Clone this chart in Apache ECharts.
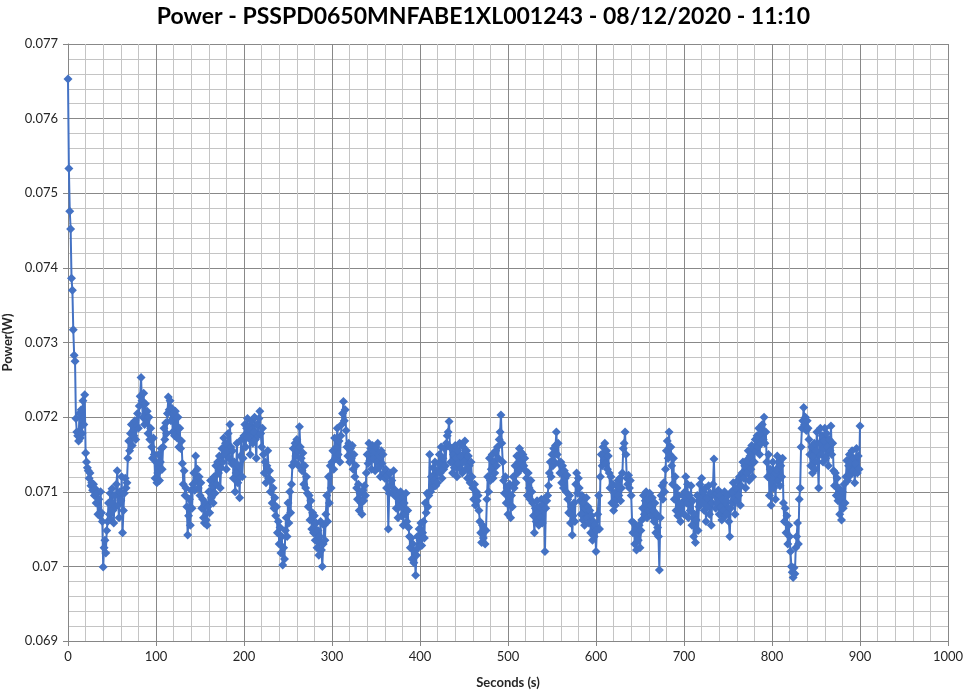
<!DOCTYPE html>
<html>
<head>
<meta charset="utf-8">
<script src="https://cdn.jsdelivr.net/npm/echarts@6/dist/echarts.min.js"></script>
<style>
html,body{margin:0;padding:0;background:#fff;}
#chart{width:967px;height:691px;}
</style>
</head>
<body>
<div id="chart"></div>
<script>
const chartTitle = "Power - PSSPD0650MNFABE1XL001243 - 08/12/2020 - 11:10";
const xAxisName = "Seconds (s)";
const yAxisName = "Power(W)";
const sampleStepSeconds = 1;
const xTicks = [0, 1000, 100];      // min, max, interval
const yTicks = [0.069, 0.077, 0.001];

// Power readings (W), one per second from t = 0 s
const power = [
0.07653,0.07533,0.07476,0.07452,0.07386,0.07370,0.07317,0.07283,0.07275,0.07198,
0.07180,0.07175,0.07168,0.07205,0.07172,0.07210,0.07178,0.07222,0.07190,0.07230,
0.07152,0.07140,0.07132,0.07128,0.07118,0.07125,0.07108,0.07112,0.07102,0.07110,
0.07095,0.07104,0.07085,0.07098,0.07070,0.07090,0.07068,0.07100,0.07072,0.07060,
0.06999,0.07025,0.07035,0.07018,0.07048,0.07060,0.07085,0.07070,0.07098,0.07062,
0.07104,0.07075,0.07058,0.07095,0.07080,0.07110,0.07128,0.07082,0.07065,0.07100,
0.07088,0.07120,0.07045,0.07075,0.07098,0.07118,0.07105,0.07112,0.07145,0.07168,
0.07155,0.07178,0.07190,0.07162,0.07182,0.07175,0.07195,0.07170,0.07188,0.07205,
0.07185,0.07215,0.07228,0.07253,0.07222,0.07200,0.07232,0.07190,0.07218,0.07195,
0.07208,0.07178,0.07200,0.07170,0.07185,0.07160,0.07145,0.07172,0.07150,0.07118,
0.07140,0.07112,0.07125,0.07150,0.07115,0.07140,0.07158,0.07130,0.07160,0.07185,
0.07170,0.07192,0.07178,0.07205,0.07227,0.07210,0.07222,0.07195,0.07212,0.07180,
0.07205,0.07175,0.07208,0.07188,0.07172,0.07200,0.07160,0.07185,0.07158,0.07168,
0.07138,0.07110,0.07128,0.07095,0.07105,0.07080,0.07042,0.07068,0.07090,0.07055,
0.07102,0.07078,0.07110,0.07125,0.07102,0.07148,0.07115,0.07130,0.07105,0.07120,
0.07095,0.07112,0.07078,0.07090,0.07065,0.07058,0.07085,0.07062,0.07055,0.07080,
0.07100,0.07072,0.07115,0.07092,0.07108,0.07085,0.07120,0.07098,0.07135,0.07110,
0.07140,0.07125,0.07148,0.07105,0.07132,0.07158,0.07140,0.07172,0.07150,0.07165,
0.07130,0.07155,0.07178,0.07145,0.07190,0.07160,0.07138,0.07155,0.07118,0.07140,
0.07100,0.07125,0.07165,0.07112,0.07135,0.07092,0.07148,0.07170,0.07120,0.07145,
0.07175,0.07190,0.07160,0.07185,0.07198,0.07172,0.07188,0.07150,0.07182,0.07195,
0.07165,0.07180,0.07200,0.07170,0.07145,0.07190,0.07175,0.07198,0.07208,0.07178,
0.07160,0.07185,0.07150,0.07125,0.07140,0.07112,0.07135,0.07155,0.07118,0.07128,
0.07100,0.07115,0.07085,0.07105,0.07078,0.07092,0.07068,0.07080,0.07045,0.07060,
0.07030,0.07052,0.07018,0.07040,0.07002,0.07025,0.07010,0.07048,0.07065,0.07040,
0.07085,0.07058,0.07100,0.07072,0.07110,0.07135,0.07158,0.07140,0.07165,0.07148,
0.07170,0.07155,0.07135,0.07187,0.07160,0.07145,0.07128,0.07152,0.07110,0.07135,
0.07105,0.07120,0.07098,0.07080,0.07095,0.07062,0.07088,0.07050,0.07072,0.07045,
0.07068,0.07035,0.07058,0.07025,0.07048,0.07015,0.07040,0.07060,0.07022,0.07000,
0.07030,0.07055,0.07035,0.07070,0.07095,0.07060,0.07120,0.07085,0.07135,0.07105,
0.07140,0.07155,0.07130,0.07172,0.07145,0.07160,0.07185,0.07150,0.07168,0.07140,
0.07175,0.07190,0.07205,0.07221,0.07195,0.07210,0.07182,0.07160,0.07148,0.07165,
0.07140,0.07158,0.07145,0.07162,0.07130,0.07150,0.07120,0.07135,0.07105,0.07090,
0.07110,0.07075,0.07098,0.07085,0.07070,0.07102,0.07088,0.07108,0.07095,0.07125,
0.07150,0.07138,0.07165,0.07142,0.07158,0.07130,0.07162,0.07145,0.07155,0.07128,
0.07160,0.07140,0.07165,0.07132,0.07148,0.07120,0.07155,0.07138,0.07150,0.07125,
0.07118,0.07130,0.07105,0.07122,0.07050,0.07098,0.07125,0.07108,0.07115,0.07100,
0.07128,0.07095,0.07102,0.07078,0.07095,0.07065,0.07090,0.07080,0.07100,0.07068,
0.07092,0.07055,0.07085,0.07070,0.07098,0.07060,0.07075,0.07052,0.07040,0.07025,
0.07038,0.07010,0.07030,0.07005,0.07020,0.06988,0.07015,0.07040,0.07025,0.07050,
0.07035,0.07058,0.07028,0.07045,0.07060,0.07038,0.07085,0.07072,0.07098,0.07080,
0.07095,0.07150,0.07100,0.07120,0.07105,0.07132,0.07115,0.07140,0.07108,0.07128,
0.07112,0.07138,0.07150,0.07125,0.07160,0.07118,0.07145,0.07130,0.07158,0.07135,
0.07165,0.07175,0.07180,0.07194,0.07160,0.07140,0.07158,0.07125,0.07150,0.07132,
0.07162,0.07145,0.07120,0.07155,0.07138,0.07165,0.07130,0.07148,0.07125,0.07160,
0.07140,0.07168,0.07130,0.07155,0.07118,0.07148,0.07135,0.07112,0.07140,0.07120,
0.07105,0.07090,0.07110,0.07082,0.07100,0.07088,0.07095,0.07075,0.07060,0.07045,
0.07032,0.07055,0.07038,0.07050,0.07030,0.07048,0.07090,0.07120,0.07100,0.07145,
0.07115,0.07130,0.07150,0.07118,0.07140,0.07125,0.07155,0.07135,0.07160,0.07145,
0.07170,0.07180,0.07203,0.07165,0.07140,0.07115,0.07098,0.07120,0.07085,0.07105,
0.07070,0.07092,0.07110,0.07065,0.07095,0.07080,0.07120,0.07105,0.07135,0.07112,
0.07148,0.07125,0.07140,0.07158,0.07130,0.07153,0.07138,0.07150,0.07135,0.07145,
0.07128,0.07118,0.07095,0.07125,0.07105,0.07090,0.07115,0.07100,0.07085,0.07068,
0.07045,0.07078,0.07060,0.07088,0.07072,0.07055,0.07080,0.07065,0.07090,0.07058,
0.07082,0.07090,0.07020,0.07078,0.07088,0.07095,0.07108,0.07125,0.07140,0.07120,
0.07150,0.07135,0.07158,0.07140,0.07162,0.07180,0.07150,0.07165,0.07138,0.07125,
0.07140,0.07112,0.07135,0.07105,0.07128,0.07118,0.07100,0.07122,0.07090,0.07072,
0.07095,0.07058,0.07080,0.07042,0.07068,0.07085,0.07060,0.07110,0.07125,0.07098,
0.07118,0.07105,0.07088,0.07070,0.07095,0.07062,0.07085,0.07055,0.07078,0.07092,
0.07065,0.07080,0.07058,0.07075,0.07045,0.07068,0.07035,0.07060,0.07040,0.07055,
0.07020,0.07048,0.07070,0.07095,0.07050,0.07120,0.07150,0.07135,0.07160,0.07142,
0.07165,0.07138,0.07155,0.07130,0.07148,0.07125,0.07105,0.07120,0.07085,0.07110,
0.07075,0.07098,0.07082,0.07108,0.07090,0.07115,0.07095,0.07118,0.07088,0.07105,
0.07125,0.07158,0.07165,0.07180,0.07150,0.07118,0.07110,0.07122,0.07105,0.07115,
0.07095,0.07060,0.07045,0.07058,0.07030,0.07050,0.07022,0.07042,0.07035,0.07055,
0.07025,0.07048,0.07062,0.07078,0.07095,0.07070,0.07088,0.07100,0.07065,0.07090,
0.07075,0.07098,0.07082,0.07068,0.07092,0.07075,0.07060,0.07085,0.07045,0.07070,
0.07052,0.07040,0.06995,0.07065,0.07095,0.07108,0.07090,0.07112,0.07100,0.07130,
0.07155,0.07168,0.07145,0.07180,0.07150,0.07160,0.07135,0.07110,0.07145,0.07090,
0.07120,0.07075,0.07105,0.07068,0.07095,0.07080,0.07060,0.07085,0.07072,0.07095,
0.07070,0.07100,0.07120,0.07085,0.07110,0.07065,0.07095,0.07075,0.07108,0.07055,
0.07088,0.07040,0.07070,0.07032,0.07062,0.07095,0.07048,0.07080,0.07110,0.07090,
0.07118,0.07085,0.07100,0.07075,0.07105,0.07060,0.07092,0.07080,0.07108,0.07070,
0.07098,0.07055,0.07085,0.07110,0.07144,0.07095,0.07078,0.07098,0.07085,0.07102,
0.07070,0.07095,0.07080,0.07062,0.07090,0.07075,0.07100,0.07068,0.07088,0.07072,
0.07095,0.07060,0.07040,0.07078,0.07100,0.07085,0.07112,0.07090,0.07070,0.07105,
0.07088,0.07115,0.07095,0.07120,0.07082,0.07108,0.07125,0.07140,0.07118,0.07135,
0.07105,0.07142,0.07125,0.07155,0.07115,0.07148,0.07130,0.07162,0.07120,0.07158,
0.07140,0.07170,0.07155,0.07175,0.07160,0.07185,0.07150,0.07178,0.07165,0.07190,
0.07170,0.07200,0.07165,0.07180,0.07140,0.07120,0.07150,0.07095,0.07130,0.07082,
0.07115,0.07140,0.07105,0.07125,0.07090,0.07130,0.07148,0.07115,0.07140,0.07108,
0.07135,0.07120,0.07145,0.07085,0.07060,0.07078,0.07045,0.07068,0.07030,0.07055,
0.07040,0.07020,0.07000,0.06992,0.06985,0.06998,0.06990,0.07025,0.07040,0.07058,
0.07030,0.07090,0.07105,0.07160,0.07185,0.07195,0.07213,0.07190,0.07200,0.07182,
0.07195,0.07185,0.07170,0.07150,0.07135,0.07160,0.07125,0.07148,0.07165,0.07130,
0.07155,0.07180,0.07140,0.07105,0.07165,0.07185,0.07150,0.07175,0.07140,0.07168,
0.07185,0.07145,0.07178,0.07160,0.07135,0.07170,0.07155,0.07188,0.07150,0.07165,
0.07128,0.07108,0.07125,0.07095,0.07118,0.07088,0.07105,0.07070,0.07092,0.07062,
0.07100,0.07078,0.07110,0.07085,0.07120,0.07142,0.07115,0.07135,0.07150,0.07122,
0.07140,0.07155,0.07128,0.07145,0.07112,0.07138,0.07158,0.07125,0.07148,0.07130,0.07188
];

const seriesData = power.map((v, i) => [i * sampleStepSeconds, v]);

const chart = echarts.init(document.getElementById('chart'), null, {renderer: 'canvas'});
const labelFont = 'Lato, "Liberation Sans", sans-serif';
chart.setOption({
  animation: false,
  backgroundColor: '#ffffff',
  title: {
    text: chartTitle,
    left: 'center',
    top: 0,
    textStyle: {fontFamily: labelFont, fontWeight: 'bold', fontSize: 23, color: '#000000'}
  },
  grid: {left: 68, right: 19, top: 44, bottom: 50, containLabel: false, outerBoundsMode: 'none'},
  xAxis: {
    type: 'value',
    min: xTicks[0], max: xTicks[1], interval: xTicks[2],
    name: xAxisName,
    nameLocation: 'middle',
    nameGap: 35,
    nameTextStyle: {fontFamily: labelFont, fontWeight: 'bold', fontSize: 13, color: '#262626'},
    axisLine: {show: true, lineStyle: {color: '#868686', width: 1}},
    axisTick: {show: true, length: 5, lineStyle: {color: '#868686'}},
    minorTick: {show: true, splitNumber: 5, length: 0},
    axisLabel: {fontFamily: labelFont, fontSize: 13, color: '#262626', margin: 9,
      formatter: v => String(v)},
    splitLine: {show: true, lineStyle: {color: '#888888', width: 1}},
    minorSplitLine: {show: true, lineStyle: {color: '#c4c4c4', width: 1}}
  },
  yAxis: {
    type: 'value',
    min: yTicks[0], max: yTicks[1], interval: yTicks[2],
    name: yAxisName,
    nameLocation: 'middle',
    nameGap: 52,
    nameRotate: 90,
    nameTextStyle: {fontFamily: labelFont, fontWeight: 'bold', fontSize: 13, color: '#262626'},
    axisLine: {show: true, lineStyle: {color: '#868686', width: 1}},
    axisTick: {show: true, length: 5, lineStyle: {color: '#868686'}},
    minorTick: {show: true, splitNumber: 5, length: 0},
    axisLabel: {
      fontFamily: labelFont, fontSize: 13, color: '#262626', margin: 10,
      formatter: v => String(parseFloat(v.toFixed(3)))
    },
    splitLine: {show: true, lineStyle: {color: '#888888', width: 1}},
    minorSplitLine: {show: true, lineStyle: {color: '#c4c4c4', width: 1}}
  },
  series: [{
    type: 'line',
    data: seriesData,
    showAllSymbol: true,
    symbol: 'diamond',
    symbolSize: 9,
    lineStyle: {color: '#4472C4', width: 2},
    itemStyle: {color: '#4472C4', borderWidth: 0},
    emphasis: {disabled: true},
    silent: true
  }]
});
</script>
</body>
</html>
